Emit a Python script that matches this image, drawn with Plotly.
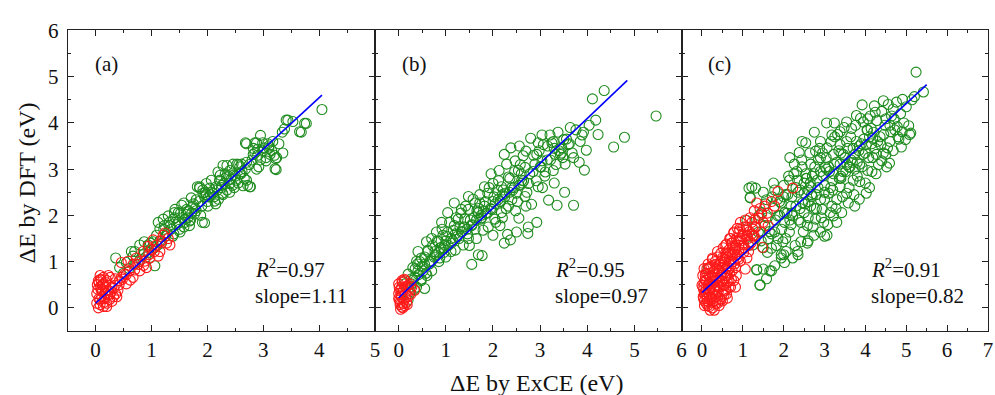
import plotly.graph_objects as go

# ---------------- data ----------------
# Panel (a)
a_green_x = [4.05, 3.77, 3.68, 3.44, 3.53, 3.38, 3.34, 3.22, 3.23, 3.12, 3.05, 3.02, 2.99, 2.95, 2.88, 2.70, 2.82, 2.90, 3.10, 3.17,
             2.76, 2.64, 2.70, 2.58, 2.46, 2.40, 2.28, 2.34, 2.19, 2.22, 2.16, 2.10, 2.04, 1.98, 1.92, 1.86, 1.95, 1.80, 1.74, 1.71,
             1.63, 1.54, 1.48, 1.39, 1.42, 1.30, 1.33, 1.21, 1.15, 1.12, 1.09, 1.03, 1.06, 0.94, 0.85, 0.79, 0.64, 0.67, 0.36, 0.55,
             0.43, 1.51, 1.60, 1.68, 1.77, 2.01, 2.13, 2.27, 2.40, 2.52, 2.61, 2.46, 2.07, 1.86, 3.41, 3.74, 3.65, 3.21, 3.24, 2.68,
             2.85, 2.23, 2.35, 2.53, 2.77, 1.91, 1.82, 1.58, 1.41, 1.23, 0.70, 0.87,
             1.25, 1.35, 1.45, 1.50, 1.55, 1.65, 1.72, 1.80, 1.85, 1.90, 1.95, 2.00, 2.05, 2.12, 2.18, 2.25, 2.30, 2.35, 2.42, 2.50,
             2.55, 2.62, 2.68, 2.75, 2.80, 2.90, 2.95, 3.00, 3.10, 3.15, 1.15, 1.10, 1.00, 0.95, 0.90, 0.80, 0.70, 0.60, 0.50, 1.40,
             1.60, 2.20, 2.40, 1.70]
a_green_y = [4.29, 3.99, 3.80, 4.06, 4.03, 3.87, 3.80, 3.23, 2.99, 3.32, 3.18, 3.46, 3.57, 3.73, 3.57, 3.55, 3.32, 3.43, 3.50, 3.60,
             2.62, 2.64, 2.76, 2.90, 3.11, 2.97, 3.08, 2.83, 2.94, 2.76, 2.62, 2.48, 2.59, 2.69, 2.48, 2.59, 1.84, 2.34, 2.20, 2.38,
             2.13, 2.22, 2.06, 1.92, 2.13, 1.99, 1.78, 1.92, 1.71, 1.85, 1.57, 1.43, 0.91, 1.36, 1.15, 1.36, 1.22, 1.12, 1.08, 0.98,
             0.87, 1.64, 1.92, 1.78, 2.03, 2.20, 2.31, 2.48, 2.69, 2.76, 3.11, 2.87, 2.76, 2.62, 4.06, 3.99, 3.81, 3.01, 3.25, 3.57,
             3.57, 2.87, 3.08, 3.11, 2.62, 1.85, 2.62, 2.27, 2.06, 1.78, 1.22, 1.43,
             1.55, 1.70, 1.80, 1.70, 1.95, 1.95, 2.05, 2.10, 2.30, 2.20, 2.40, 2.30, 2.45, 2.40, 2.55, 2.60, 2.70, 2.55, 2.78, 2.85,
             2.70, 2.95, 3.00, 3.10, 3.20, 3.30, 3.20, 3.40, 3.45, 3.40, 1.45, 1.35, 1.25, 1.20, 1.10, 1.05, 0.95, 0.85, 0.75, 1.60,
             1.85, 2.35, 2.50, 1.90]
a_green_more = [(1.05, 1.30), (1.18, 1.40), (1.28, 1.62), (1.38, 1.55), (1.48, 1.85), (1.58, 1.75), (1.62, 2.02), (1.68, 1.88),
                (1.78, 2.15), (1.88, 2.00), (1.98, 2.45), (2.08, 2.50), (2.15, 2.25), (2.28, 2.45), (2.38, 2.85), (2.48, 2.60),
                (2.58, 3.05), (2.66, 2.80), (2.72, 2.65), (2.85, 3.35), (2.92, 3.05), (3.05, 3.25), (3.20, 3.30), (3.28, 3.55),
                (3.35, 3.35), (1.22, 1.70), (1.32, 1.85), (1.52, 2.05), (1.75, 2.25), (1.92, 2.55), (2.02, 2.40), (2.22, 2.75),
                (2.32, 2.90), (2.45, 2.65), (2.60, 2.90), (2.70, 3.15), (2.88, 3.00), (3.08, 3.55), (0.98, 1.40), (1.42, 1.95),
                (1.66, 2.10), (1.96, 2.50), (2.26, 2.65), (2.56, 3.10), (2.82, 3.45)]
a_red_x = [0.02, 0.05, 0.08, 0.14, 0.20, 0.26, 0.08, 0.05, 0.14, 0.20, 0.32, 0.40, 0.46, 0.58, 0.67, 0.73, 0.85, 0.91, 1.03, 1.09,
           1.21, 1.24, 1.15, 1.33, 0.97, 0.79, 0.67, 0.55, 0.43, 0.35, 0.52, 0.61, 0.76, 0.88, 1.00, 1.12, 1.30, 0.94, 0.23, 0.29,
           0.11, 0.17, 0.02, 0.08, 0.14, 0.08, 0.23, 0.35, 0.46, 0.38, 0.29, 0.20, 0.10, 0.12, 0.06, 0.16, 0.18, 0.04, 0.10, 0.26]
a_red_y = [0.31, 0.59, 0.45, 0.66, 0.59, 0.66, 0.07, 0.00, 0.03, 0.10, 0.24, 0.38, 0.98, 1.01, 0.94, 1.08, 1.22, 0.87, 1.47, 1.36,
           1.57, 1.62, 1.22, 1.36, 1.08, 0.80, 0.66, 0.52, 0.59, 0.49, 0.73, 0.80, 0.94, 1.01, 1.26, 1.12, 1.50, 1.33, 0.38, 0.45,
           0.24, 0.31, 0.10, 0.17, 0.52, 0.70, 0.70, 0.63, 0.66, 0.24, 0.14, 0.03, 0.38, 0.50, 0.55, 0.20, 0.45, 0.40, 0.60, 0.30]
a_red_more = [(0.03, 0.50), (0.06, 0.20), (0.09, 0.62), (0.12, 0.35), (0.15, 0.12), (0.18, 0.55), (0.22, 0.28), (0.25, 0.18),
              (0.28, 0.35), (0.32, 0.42), (0.36, 0.30), (0.42, 0.50), (0.48, 0.62), (0.55, 0.72), (0.62, 0.60), (0.70, 0.82),
              (0.78, 1.00), (0.86, 0.92), (0.95, 1.15), (1.05, 1.22), (1.18, 1.45), (1.27, 1.40)]
a_line_x = [0.0, 4.05]
a_line_y = [0.10, 4.60]

# Panel (b)
b_green_x = [5.46, 4.79, 4.56, 4.36, 4.11, 4.18, 4.23, 4.04, 3.89, 3.98, 3.94, 3.83, 3.71, 3.64, 3.71, 3.52, 3.36, 3.18, 3.38, 3.21,
             3.25, 3.07, 2.96, 2.93, 3.04, 2.89, 3.46, 3.28, 3.11, 3.32, 3.53, 3.60, 3.50, 3.43, 2.96, 2.93, 2.75, 2.74, 2.50, 2.31,
             2.24, 2.37, 2.82, 2.68, 2.75, 2.61, 2.68, 2.54, 2.47, 2.64, 2.50, 2.40, 2.55, 2.33, 2.26, 2.18, 2.33, 2.29, 2.18, 2.11,
             2.04, 2.15, 2.00, 1.97, 2.00, 1.89, 1.82, 1.74, 1.79, 1.77, 1.69, 1.55, 1.65, 1.69, 1.62, 1.48, 1.40, 1.55, 1.48, 1.33,
             1.26, 1.33, 1.37, 1.18, 1.11, 1.04, 0.98, 1.11, 0.94, 0.84, 0.77, 0.87, 0.70, 0.62, 0.55, 0.48, 0.52, 0.41, 0.34, 0.48,
             0.55, 0.38, 0.27, 0.23, 0.20, 0.27, 1.18, 1.48, 1.72, 1.82, 1.96, 2.13, 2.24, 2.38, 2.56, 2.70, 2.80, 3.04, 1.04, 0.91,
             0.80, 0.70, 0.59, 0.41, 0.38, 0.30, 0.20, 0.13,
             0.65, 0.75, 0.85, 0.95, 1.05, 1.15, 1.25, 1.35, 1.45, 1.55, 1.65, 1.75, 1.85, 1.95, 2.05, 2.15, 2.25, 2.35, 2.45, 2.55,
             2.65, 2.85, 3.00, 3.15, 1.00, 1.20, 1.40, 1.60, 1.80, 2.00, 2.20, 2.40, 0.90, 1.30, 1.70, 2.10, 2.60, 3.30, 3.45, 0.60]
b_green_y = [4.15, 3.69, 3.48, 4.70, 4.52, 4.06, 3.75, 3.95, 3.74, 3.41, 2.98, 3.15, 2.22, 3.90, 3.25, 2.50, 2.22, 2.33, 3.80, 3.74,
             3.57, 3.53, 3.57, 3.32, 3.18, 3.11, 3.46, 2.97, 2.94, 3.32, 3.11, 3.53, 3.64, 3.32, 2.62, 1.85, 1.75, 1.61, 1.64, 1.59,
             1.40, 1.47, 2.24, 2.41, 2.69, 2.76, 3.04, 2.97, 3.18, 3.29, 2.48, 2.34, 1.94, 2.20, 2.48, 2.06, 2.83, 3.11, 2.62, 2.34,
             1.92, 1.78, 1.57, 2.13, 2.69, 2.48, 2.20, 1.92, 1.68, 1.13, 1.15, 0.94, 1.50, 2.06, 2.27, 2.13, 1.92, 1.78, 1.50, 2.13,
             1.92, 1.64, 1.36, 1.78, 1.50, 1.64, 1.36, 1.22, 1.57, 1.43, 1.22, 1.08, 1.01, 1.22, 0.94, 1.08, 0.80, 0.80, 0.66, 0.59,
             0.42, 0.45, 0.52, 0.31, 0.17, 0.63, 2.27, 2.41, 2.27, 2.62, 2.90, 2.97, 3.32, 3.46, 3.50, 3.39, 3.67, 3.74, 2.06, 1.85,
             1.64, 1.50, 1.43, 1.22, 1.01, 0.87, 0.73, 0.52,
             0.95, 1.10, 1.20, 1.30, 1.35, 1.45, 1.55, 1.65, 1.70, 1.80, 1.90, 2.00, 2.05, 2.15, 2.25, 2.30, 2.40, 2.50, 2.60, 2.65,
             2.75, 2.95, 3.05, 3.20, 1.45, 1.60, 1.75, 1.95, 2.10, 2.30, 2.45, 2.60, 1.30, 1.75, 2.15, 2.55, 2.90, 3.45, 3.35, 0.70]
b_green_more = [(0.30, 0.60), (0.35, 0.85), (0.42, 0.72), (0.45, 1.00), (0.50, 0.90), (0.58, 0.75), (0.62, 1.25), (0.66, 1.00),
                (0.72, 1.35), (0.78, 1.15), (0.82, 1.45), (0.88, 1.30), (0.92, 1.70), (0.96, 1.20), (1.02, 1.55), (1.08, 1.85),
                (1.12, 1.40), (1.16, 1.68), (1.22, 1.95), (1.28, 1.50), (1.32, 2.05), (1.38, 1.75), (1.42, 2.20), (1.46, 1.60),
                (1.52, 1.90), (1.58, 2.35), (1.62, 1.70), (1.66, 2.10), (1.72, 2.45), (1.76, 1.95), (1.84, 2.30), (1.88, 2.05),
                (1.92, 2.60), (2.02, 2.40), (2.06, 1.85), (2.12, 2.75), (2.16, 2.30), (2.22, 2.55), (2.28, 2.15), (2.36, 2.80),
                (2.42, 2.55), (2.46, 2.95), (2.52, 2.30), (2.58, 3.10), (2.62, 2.70), (2.72, 2.50), (2.78, 2.90), (2.86, 3.30),
                (2.92, 2.75), (2.98, 3.40), (3.02, 3.05), (3.10, 2.85), (3.16, 3.50), (3.22, 3.20), (3.28, 3.60), (3.34, 3.10),
                (3.40, 3.40), (3.48, 3.25), (3.56, 3.65), (3.62, 3.55), (3.68, 3.35), (3.76, 3.85), (3.85, 3.60), (3.92, 3.80),
                (0.40, 0.95), (0.55, 1.10), (0.70, 0.80), (0.85, 1.00), (1.00, 1.10), (1.20, 1.25), (1.50, 1.35), (1.90, 1.75),
                (2.20, 1.95), (2.48, 2.10), (2.70, 2.20), (3.05, 2.60), (3.30, 2.70), (0.25, 0.45), (0.33, 0.40), (0.48, 0.62)]
b_red_x = [0.00, 0.02, 0.06, 0.09, 0.04, 0.13, 0.16, 0.14, 0.20, 0.23, 0.34, 0.09, 0.06, 0.18, 0.11, 0.02, 0.07, 0.00, 0.03, 0.23]
b_red_y = [0.52, 0.38, 0.24, 0.10, -0.03, 0.59, 0.45, 0.31, 0.24, 0.38, 0.38, 0.00, 0.45, 0.07, 0.17, 0.17, 0.59, 0.31, 0.07, 0.52]
b_red_more = [(0.01, 0.45), (0.05, 0.28), (0.08, 0.55), (0.12, 0.05), (0.15, 0.22), (0.10, 0.38), (0.03, 0.12), (0.19, 0.48),
              (0.07, 0.02), (0.26, 0.30), (0.12, 0.62), (0.00, 0.20), (0.05, 0.40), (0.17, 0.12), (0.28, 0.45)]
b_line_x = [0.0, 4.85]
b_line_y = [0.22, 4.92]

# Panel (c)
c_green_x = [5.24, 5.42, 5.20, 4.91, 4.68, 4.44, 4.24, 3.92, 3.24, 5.06, 4.90, 5.11, 4.98, 4.88, 4.78, 4.62, 4.54, 4.59, 4.40, 4.27,
             4.50, 4.38, 4.18, 4.06, 3.95, 4.14, 4.02, 3.94, 4.06, 3.86, 3.74, 3.42, 3.22, 3.06, 2.90, 2.74, 2.58, 2.42, 2.34, 2.22,
             2.06, 1.94, 1.78, 1.70, 1.50, 1.42, 1.34, 1.10, 1.15, 1.31, 1.18, 1.46, 1.58, 1.78, 1.94, 1.86, 1.78, 2.02, 2.18, 2.14,
             2.26, 2.38, 2.54, 2.66, 2.78, 2.90, 3.06, 3.18, 3.38, 3.54, 3.66, 3.74, 3.62, 3.38, 3.22, 3.02, 2.82, 2.66, 2.50, 2.34,
             2.30, 2.50, 2.66, 2.90, 3.10, 3.38, 3.54, 3.70, 3.14, 2.98, 2.78, 2.58, 2.42, 2.14, 1.98, 1.86, 1.70, 1.62, 1.54, 1.38,
             1.30, 1.24, 2.90, 2.74, 2.54, 3.22, 3.46, 3.38, 3.78, 3.86, 4.18, 4.26, 4.02, 3.58, 3.30, 3.18, 2.94, 2.70, 2.46, 2.22,
             2.02, 3.54, 3.78, 4.22, 4.50, 4.70, 0.15, 1.22, 1.18, 1.34, 1.58, 1.42, 1.66, 2.02, 1.94,
             2.10, 2.20, 2.30, 2.40, 2.50, 2.60, 2.70, 2.80, 2.90, 3.00, 3.10, 3.20, 3.30, 3.40, 3.50, 3.60, 3.70, 3.80, 3.90, 4.00,
             4.10, 4.30, 4.60, 4.80, 2.00, 2.45, 2.85, 3.25, 3.65, 4.05, 2.25, 2.65, 3.05, 3.45, 3.85, 1.90, 2.35, 2.75, 3.15, 3.55,
             1.60, 1.75, 1.85, 2.05, 2.55, 2.95, 3.35, 3.75, 4.15, 4.45, 1.70, 1.50, 2.15, 2.60, 3.00, 3.40]
c_green_y = [5.10, 4.67, 4.57, 4.51, 4.30, 4.48, 4.23, 4.39, 4.00, 3.94, 3.81, 3.78, 3.64, 3.48, 3.92, 3.81, 3.46, 3.13, 3.18, 3.32,
             3.32, 3.53, 3.67, 4.09, 4.02, 3.88, 3.53, 3.32, 2.97, 2.73, 2.20, 2.06, 1.99, 1.57, 1.64, 1.57, 1.40, 1.43, 1.22, 1.08,
             1.22, 1.08, 0.91, 0.80, 0.84, 0.50, 0.83, 1.89, 2.59, 2.59, 2.39, 2.06, 2.34, 2.55, 2.27, 1.99, 1.64, 1.85, 2.20, 2.76,
             3.11, 3.36, 3.57, 3.11, 3.39, 3.60, 3.46, 3.74, 3.81, 3.60, 3.88, 3.32, 3.04, 3.11, 2.90, 3.04, 2.76, 2.62, 2.48, 2.76,
             2.20, 2.06, 2.20, 2.34, 2.48, 2.62, 2.48, 2.76, 2.06, 1.85, 1.92, 1.78, 1.85, 1.64, 1.43, 1.50, 1.29, 1.50, 1.78, 1.64,
             1.50, 1.36, 3.25, 2.90, 2.90, 3.32, 3.32, 3.53, 3.60, 3.11, 3.25, 2.90, 2.48, 2.27, 2.34, 2.20, 2.13, 2.41, 2.27, 1.99,
             2.06, 4.02, 4.16, 4.37, 4.09, 4.09, 0.84, 2.62, 2.38, 0.82, 0.63, 0.49, 0.80, 0.98, 1.15,
             2.45, 2.05, 2.60, 2.15, 2.70, 2.30, 2.85, 2.45, 2.95, 2.65, 3.05, 2.75, 3.15, 2.85, 3.25, 3.05, 3.45, 3.15, 3.55, 3.35,
             3.70, 3.60, 3.95, 3.70, 2.40, 3.05, 3.20, 3.70, 3.20, 3.85, 2.90, 2.70, 3.00, 2.95, 3.50, 2.00, 2.50, 2.15, 2.60, 3.10,
             1.95, 2.15, 2.35, 2.45, 2.80, 3.35, 3.40, 3.00, 3.55, 3.75, 1.60, 1.30, 1.90, 2.55, 2.50, 2.80]
c_green_more = [(1.30, 1.75), (1.40, 2.00), (1.45, 1.45), (1.55, 2.25), (1.60, 1.20), (1.65, 1.65), (1.72, 2.40), (1.80, 1.90),
                (1.82, 1.35), (1.90, 2.30), (1.95, 1.70), (2.00, 2.65), (2.05, 1.50), (2.08, 2.05), (2.12, 2.85), (2.18, 1.80),
                (2.20, 2.40), (2.28, 1.35), (2.32, 2.95), (2.36, 1.90), (2.40, 2.55), (2.44, 3.20), (2.48, 1.65), (2.52, 2.25),
                (2.56, 2.80), (2.60, 1.95), (2.64, 3.35), (2.68, 2.45), (2.72, 1.75), (2.76, 3.05), (2.80, 2.15), (2.84, 2.60),
                (2.88, 3.45), (2.92, 1.95), (2.96, 2.85), (3.00, 2.35), (3.04, 3.25), (3.08, 1.80), (3.12, 2.95), (3.16, 3.60),
                (3.20, 2.55), (3.24, 3.10), (3.28, 2.15), (3.32, 3.75), (3.36, 2.80), (3.40, 3.35), (3.44, 2.40), (3.48, 3.90),
                (3.52, 2.95), (3.56, 3.45), (3.60, 2.60), (3.64, 3.70), (3.68, 3.15), (3.72, 2.45), (3.76, 3.95), (3.80, 2.85),
                (3.84, 3.40), (3.88, 4.10), (3.92, 3.05), (3.96, 3.65), (4.00, 2.70), (4.04, 3.85), (4.08, 3.25), (4.12, 4.15),
                (4.16, 2.95), (4.20, 3.80), (4.24, 3.45), (4.28, 4.05), (4.32, 3.10), (4.36, 3.70), (4.40, 4.25), (4.44, 3.35),
                (4.48, 3.95), (4.52, 3.05), (4.56, 4.40), (4.60, 3.60), (4.64, 4.15), (4.68, 3.40), (4.72, 3.85), (4.76, 4.45),
                (4.82, 3.65), (4.86, 4.20), (4.94, 4.00), (5.00, 4.35), (5.08, 3.75), (5.14, 4.50), (2.15, 3.25), (2.45, 3.60),
                (2.75, 3.80), (3.05, 4.00), (1.75, 2.70), (3.00, 1.55), (3.30, 1.85), (2.60, 1.45), (3.85, 2.35), (4.10, 2.60),
                (1.50, 2.50), (2.35, 1.15), (2.00, 1.15)]
c_red_x = [0.00, 0.06, 0.10, 0.18, 0.26, 0.38, 0.62, 0.50, 0.34, 0.18, 0.10, 0.26, 0.42, 0.34, 0.50, 0.66, 0.58, 0.74, 0.82, 0.94,
           1.02, 1.10, 1.18, 1.06, 0.86, 0.74, 0.66, 0.58, 0.50, 0.78, 0.82, 0.62, 0.98, 1.22, 1.30, 1.46, 1.48, 1.34, 1.86, 2.22,
           1.78, 1.54, 1.62, 1.44, 1.26, 1.14, 0.94, 0.70, 0.78, 0.90, 0.58, 0.50, 0.38, 0.26, 0.18, 0.14, 0.02, 0.03, 0.14, 0.22,
           0.30, 0.42, 0.54, 0.66, 0.34, 0.18, 0.46, 0.58, 0.70, 0.82, 0.90, 1.02, 1.10, 0.74, 0.42, 0.30, 0.10, 0.18, 0.34, 0.46,
           0.54, 0.08,
           0.05, 0.08, 0.12, 0.15, 0.20, 0.22, 0.25, 0.28, 0.30, 0.32, 0.36, 0.38, 0.40, 0.44, 0.46, 0.48, 0.52, 0.55, 0.56, 0.60,
           0.62, 0.65, 0.68, 0.70, 0.72, 0.76, 0.80, 0.84, 0.86, 0.90, 0.92, 0.96, 1.00, 1.04, 1.08, 1.12, 1.16, 1.20, 1.25, 1.28,
           0.10, 0.04, 0.06, 0.20, 0.30, 0.42, 0.50, 0.60, 0.70]
c_red_y = [0.49, 0.31, 0.10, 0.03, 0.00, 0.10, 0.21, 0.31, 0.24, 0.38, 0.59, 0.66, 0.80, 0.94, 0.87, 1.01, 1.19, 1.15, 1.36, 1.50,
           1.75, 1.57, 1.43, 0.84, 1.08, 0.80, 0.59, 0.38, 0.59, 0.59, 0.45, 0.70, 1.29, 1.85, 1.92, 2.03, 1.31, 2.27, 2.52, 2.59,
           2.20, 2.20, 1.78, 1.64, 1.57, 1.22, 1.01, 1.50, 1.64, 1.64, 1.36, 1.08, 1.22, 1.08, 0.87, 0.73, 0.45, 0.24, 0.14, 0.24,
           0.38, 0.45, 0.49, 0.45, 0.59, 0.52, 0.70, 0.84, 0.91, 0.87, 1.22, 1.36, 1.08, 1.29, 0.94, 0.80, 0.42, 0.28, 0.10, 0.17,
           0.28, 0.70,
           0.55, 0.35, 0.20, 0.50, 0.65, 0.45, 0.30, 0.55, 0.15, 0.70, 0.50, 0.85, 0.35, 0.60, 1.00, 0.75, 0.50, 0.95, 0.65, 1.10,
           0.90, 1.25, 0.75, 1.15, 1.40, 1.00, 1.25, 1.50, 1.15, 1.35, 1.70, 1.45, 1.60, 1.30, 1.75, 1.50, 1.65, 1.40, 1.70, 1.55,
           0.75, 0.20, 0.05, -0.05, -0.05, 0.05, 0.15, 0.30, 0.45]
c_red_more = [(0.02, 0.70), (0.04, 0.40), (0.06, 0.15), (0.08, 0.60), (0.10, 0.28), (0.12, 0.85), (0.14, 0.05), (0.16, 0.42),
              (0.18, 0.68), (0.20, 0.18), (0.22, 0.90), (0.24, 0.52), (0.26, 0.12), (0.28, 0.78), (0.30, 0.40), (0.32, 1.00),
              (0.34, 0.25), (0.36, 0.65), (0.38, 1.10), (0.40, 0.48), (0.42, 0.82), (0.44, 0.20), (0.46, 1.18), (0.48, 0.58),
              (0.50, 0.92), (0.52, 1.30), (0.54, 0.38), (0.56, 1.05), (0.58, 0.70), (0.60, 1.38), (0.62, 0.55), (0.64, 1.18),
              (0.66, 0.85), (0.68, 1.50), (0.70, 1.02), (0.72, 0.62), (0.74, 1.40), (0.76, 1.15), (0.78, 1.62), (0.80, 0.95),
              (0.82, 1.30), (0.84, 0.70), (0.86, 1.72), (0.88, 1.45), (0.90, 1.05), (0.94, 1.85), (0.98, 1.55), (1.02, 1.20),
              (1.06, 1.90), (1.10, 1.68), (1.14, 1.35), (1.18, 1.95), (1.22, 1.60), (1.28, 2.10), (1.32, 1.75), (1.38, 1.95),
              (1.42, 2.15), (1.50, 1.85), (1.60, 2.05), (1.70, 2.30), (0.15, 0.95), (0.25, 1.05), (0.05, 0.85)]
c_line_x = [0.0, 5.50]
c_line_y = [0.33, 4.83]

panel_labels = ["(a)", "(b)", "(c)"]
r2_labels = ["0.97", "0.95", "0.91"]
slope_labels = ["1.11", "0.97", "0.82"]
x_max = [5, 6, 7]
y_title = "ΔE by DFT (eV)"
x_title = "ΔE by ExCE (eV)"

# ---------------- figure ----------------
W, H = 995, 395
FONT = "Times New Roman, Liberation Serif, serif"
GREEN = "#1f8c1f"
RED = "#ff1a1a"
BLUE = "#0000ff"


def merge(xs, ys, more):
    return list(xs) + [p[0] for p in more], list(ys) + [p[1] for p in more]


panels = [
    (*merge(a_green_x, a_green_y, a_green_more), *merge(a_red_x, a_red_y, a_red_more), a_line_x, a_line_y),
    (*merge(b_green_x, b_green_y, b_green_more), *merge(b_red_x, b_red_y, b_red_more), b_line_x, b_line_y),
    (*merge(c_green_x, c_green_y, c_green_more), *merge(c_red_x, c_red_y, c_red_more), c_line_x, c_line_y),
]
x_doms = [(68 / W, 377 / W), (377 / W, 685 / W), (685 / W, 993 / W)]
y_dom = (1 - 329 / H, 1 - 19 / H)

fig = go.Figure()
for i, (gx, gy, rx, ry, lx, ly) in enumerate(panels):
    xa = "x" if i == 0 else f"x{i+1}"
    ya = "y" if i == 0 else f"y{i+1}"
    fig.add_trace(go.Scatter(x=gx, y=gy, mode="markers", xaxis=xa, yaxis=ya,
                             marker=dict(symbol="circle-open", size=10, color=GREEN, line=dict(width=1.1, color=GREEN)),
                             showlegend=False))
    fig.add_trace(go.Scatter(x=rx, y=ry, mode="markers", xaxis=xa, yaxis=ya,
                             marker=dict(symbol="circle-open", size=10, color=RED, line=dict(width=1.1, color=RED)),
                             showlegend=False))
    fig.add_trace(go.Scatter(x=lx, y=ly, mode="lines", xaxis=xa, yaxis=ya,
                             line=dict(color=BLUE, width=1.6), showlegend=False))

axis_common = dict(showline=True, linecolor="#222", linewidth=1.1, mirror="allticks", ticks="inside",
                   ticklen=6, tickwidth=1.1, tickcolor="#222", showgrid=False, zeroline=False,
                   tickfont=dict(family=FONT, size=21, color="#111"),
                   minor=dict(dtick=0.5, ticks="inside", ticklen=3, tickwidth=1.1, tickcolor="#222", showgrid=False))

layout = dict(width=W, height=H, margin=dict(l=0, r=0, t=0, b=0),
              paper_bgcolor="white", plot_bgcolor="white", showlegend=False)
for i in range(3):
    xk = "xaxis" if i == 0 else f"xaxis{i+1}"
    yk = "yaxis" if i == 0 else f"yaxis{i+1}"
    layout[xk] = dict(axis_common, domain=list(x_doms[i]), range=[-0.5, x_max[i] + 0.001],
                      tick0=0, dtick=1, anchor="y" if i == 0 else f"y{i+1}", ticklabelstandoff=0)
    layout[yk] = dict(axis_common, domain=list(y_dom), range=[-0.5, 6.001], tick0=0, dtick=1,
                      anchor="x" if i == 0 else f"x{i+1}", showticklabels=(i == 0), ticklabelstandoff=4)
fig.update_layout(**layout)

ann = []
for i in range(3):
    x0, x1 = x_doms[i]
    px0 = x0 * W
    ann.append(dict(text=panel_labels[i], xref="paper", yref="paper", x=(px0 + 25) / W, y=1 - 54 / H,
                    xanchor="left", yanchor="middle", showarrow=False, font=dict(family=FONT, size=21, color="#111")))
    lx = [254, 556, 873][i]
    ann.append(dict(text=f"<i>R</i><sup>2</sup>={r2_labels[i]}", xref="paper", yref="paper", x=lx / W, y=1 - 265 / H,
                    xanchor="left", yanchor="middle", showarrow=False, font=dict(family=FONT, size=21, color="#111")))
    ann.append(dict(text=f"slope={slope_labels[i]}", xref="paper", yref="paper", x=lx / W, y=1 - 293 / H,
                    xanchor="left", yanchor="middle", showarrow=False, font=dict(family=FONT, size=21, color="#111")))
ann.append(dict(text=y_title, xref="paper", yref="paper", x=27 / W, y=1 - 176 / H, textangle=-90,
                xanchor="center", yanchor="middle", showarrow=False, font=dict(family=FONT, size=24, color="#111")))
ann.append(dict(text=x_title, xref="paper", yref="paper", x=539 / W, y=1 - 383 / H,
                xanchor="center", yanchor="middle", showarrow=False, font=dict(family=FONT, size=24, color="#111")))
fig.update_layout(annotations=ann)

fig.write_html("out.html")
